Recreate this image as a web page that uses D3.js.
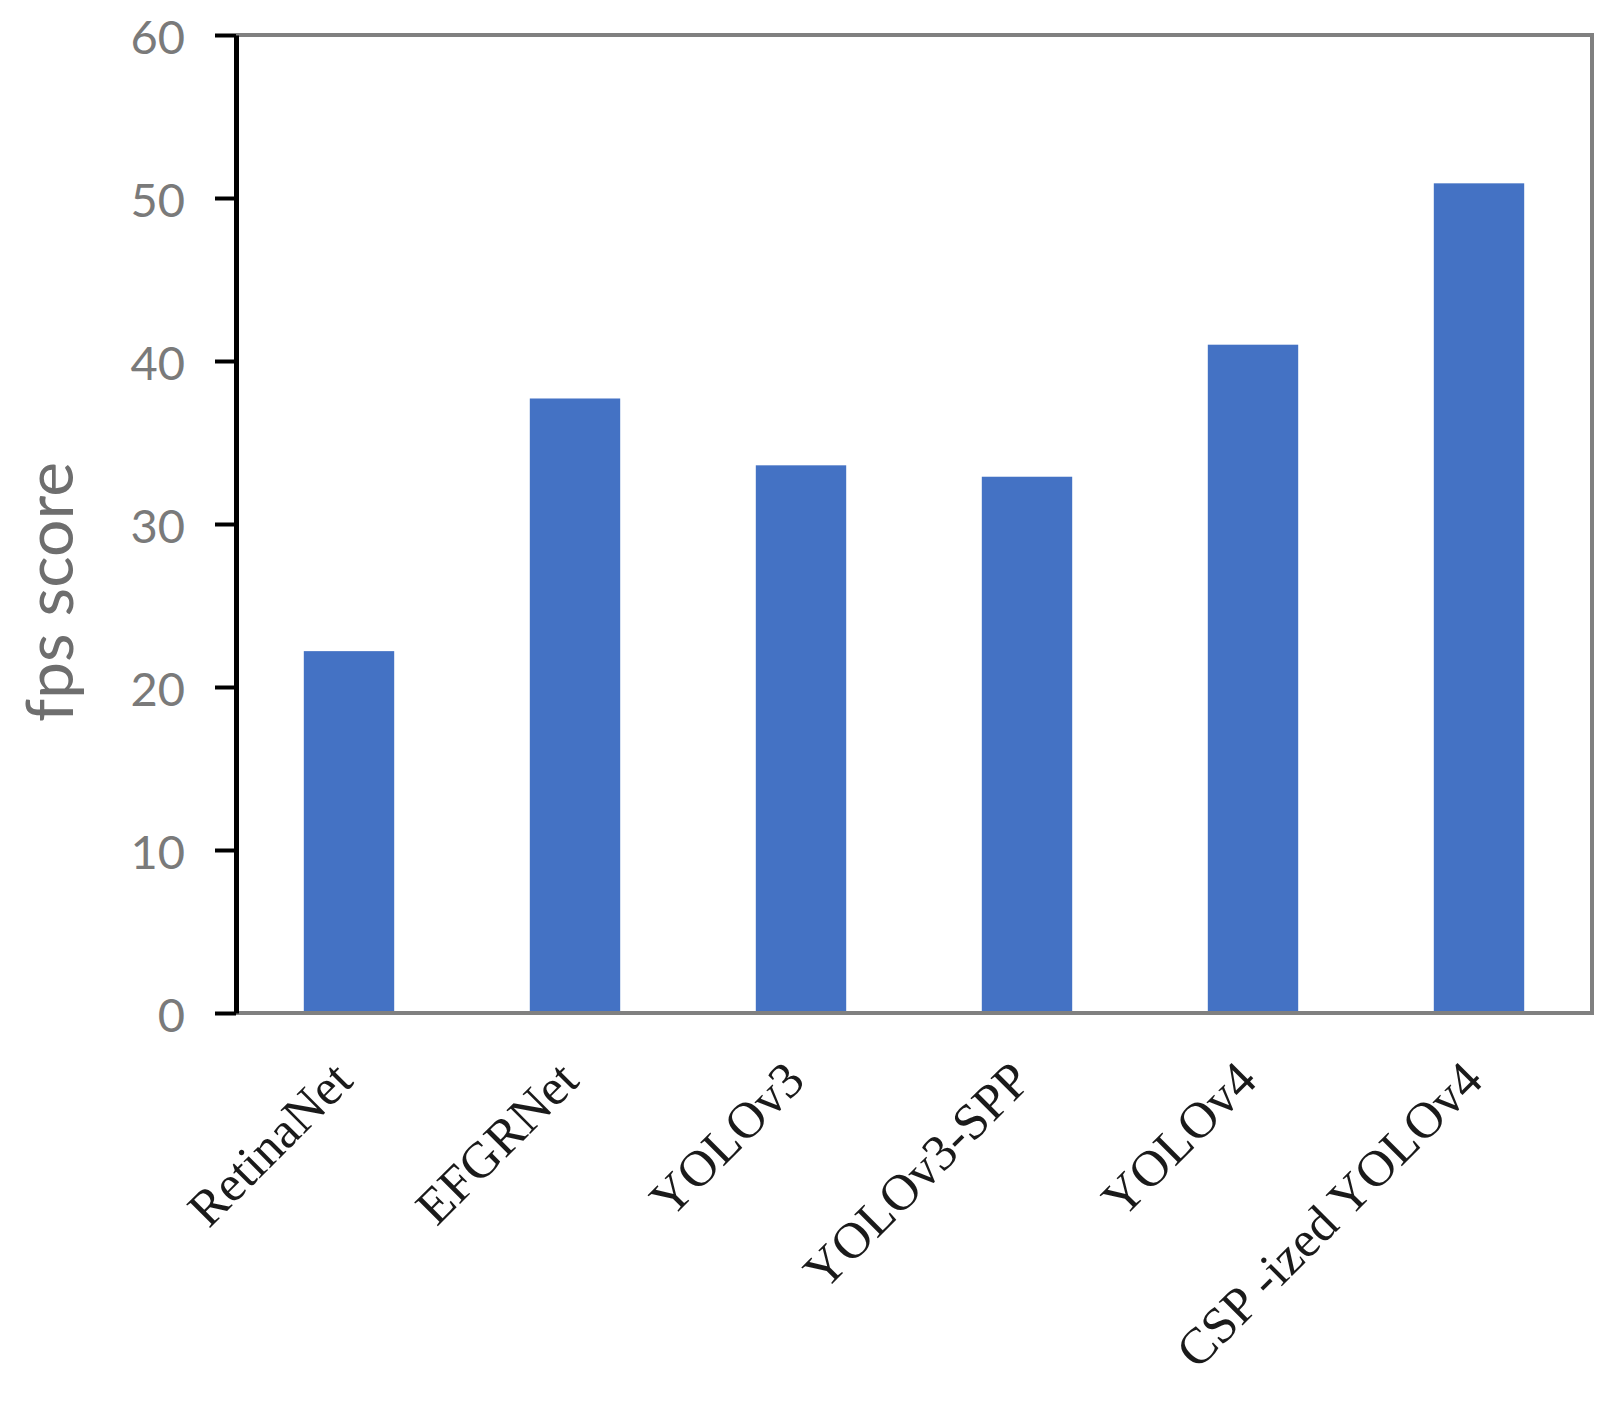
<!DOCTYPE html>
<html>
<head>
<meta charset="utf-8">
<script src="https://cdn.jsdelivr.net/npm/d3@7"></script>
<style>
  html, body { margin: 0; padding: 0; background: #fff; }
  svg { display: block; }
</style>
</head>
<body>
<script>
const categories = ["RetinaNet", "EFGRNet", "YOLOv3", "YOLOv3-SPP", "YOLOv4", "CSP -ized YOLOv4"];
const fpsValues = [22.2, 37.7, 33.6, 32.9, 41.0, 50.9];
const yTicks = [0, 10, 20, 30, 40, 50, 60];
const yTitle = "fps score";

const W = 1620, H = 1404;
const plotLeft = 236, plotRight = 1592, plotTop = 35, plotBottom = 1013;

const svg = d3.select("body").append("svg")
  .attr("width", W).attr("height", H)
  .style("background", "#fff");

const x = d3.scaleBand().domain(categories).range([plotLeft, plotRight]).padding(0);
const y = d3.scaleLinear().domain([0, 60]).range([plotBottom, plotTop]);
const step = x.step();
const barW = step * 0.4;

// bars
svg.append("g").selectAll("rect")
  .data(categories.map((c, i) => ({ c, v: fpsValues[i] })))
  .join("rect")
  .attr("x", d => x(d.c) + (step - barW) / 2)
  .attr("width", barW)
  .attr("y", d => y(d.v))
  .attr("height", d => y(0) - y(d.v))
  .attr("fill", "#4472C4");

// frame (top, right, bottom gray)
const frame = svg.append("g").attr("fill", "none").attr("stroke", "#808080").attr("stroke-width", 4);
frame.append("line").attr("x1", plotLeft).attr("x2", plotRight).attr("y1", plotTop).attr("y2", plotTop);
frame.append("line").attr("x1", plotRight).attr("x2", plotRight).attr("y1", plotTop - 2).attr("y2", plotBottom + 2);
frame.append("line").attr("x1", plotLeft).attr("x2", plotRight).attr("y1", plotBottom).attr("y2", plotBottom);

// y axis
const yAxis = svg.append("g")
  .attr("transform", `translate(${plotLeft},0)`)
  .call(d3.axisLeft(y).tickValues(yTicks).tickSize(21).tickPadding(30).tickSizeOuter(0));
yAxis.select(".domain").attr("stroke", "#000").attr("stroke-width", 5);
yAxis.selectAll(".tick line").attr("stroke", "#000").attr("stroke-width", 4);
yAxis.selectAll(".tick text")
  .attr("dy", "0.4em")
  .attr("fill", "#7a7a7a")
  .style("font-family", "Lato, 'Open Sans', sans-serif")
  .style("font-size", "47px");

// x axis labels
const xAxis = svg.append("g")
  .attr("transform", `translate(0,${plotBottom})`)
  .call(d3.axisBottom(x).tickSize(0).tickSizeOuter(0));
xAxis.select(".domain").remove();
xAxis.selectAll(".tick text")
  .attr("x", 0).attr("y", 0).attr("dy", 0)
  .attr("text-anchor", "end")
  .attr("transform", "translate(6,70) rotate(-45)")
  .attr("fill", "#1a1a1a")
  .style("font-family", "'Liberation Serif', 'Times New Roman', serif")
  .style("font-size", "51px");

// y title
svg.append("text")
  .attr("transform", "translate(73,592) rotate(-90)")
  .attr("text-anchor", "middle")
  .attr("fill", "#6e6e6e")
  .style("font-family", "Lato, 'Open Sans', sans-serif")
  .style("font-size", "66px")
  .text(yTitle);
</script>
</body>
</html>
